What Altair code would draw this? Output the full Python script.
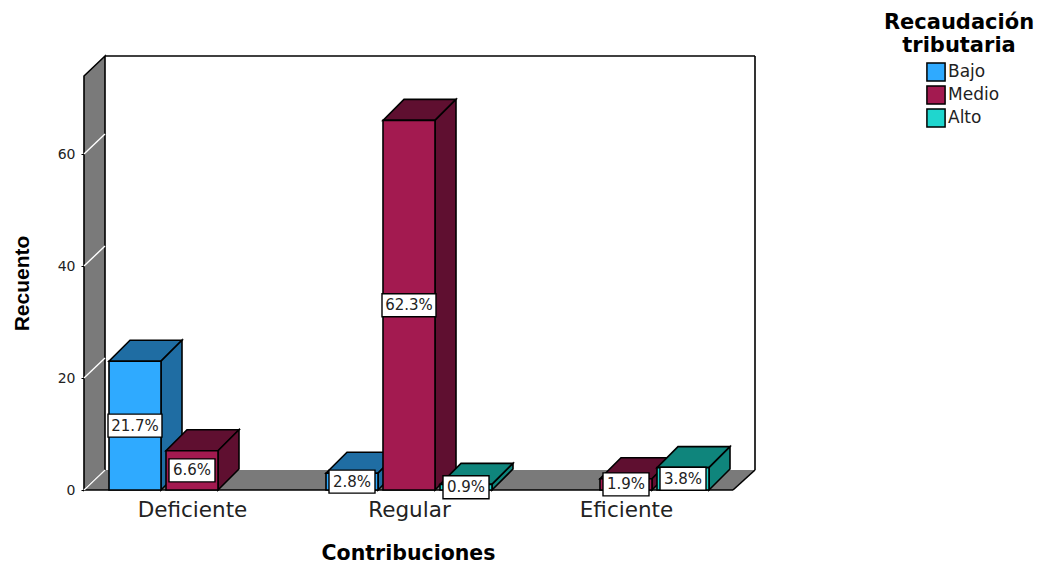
import altair as alt
import pandas as pd

categories = ["Deficiente", "Regular", "Eficiente"]
series = ["Bajo", "Medio", "Alto"]
counts = {
    "Bajo": [23, 3, 0],
    "Medio": [7, 66, 2],
    "Alto": [0, 1, 4],
}
percents = {
    "Bajo": ["21.7%", "2.8%", ""],
    "Medio": ["6.6%", "62.3%", "1.9%"],
    "Alto": ["", "0.9%", "3.8%"],
}
y_ticks = [0, 20, 40, 60]
front = ["#2FAAFF", "#A31A50", "#1FD6CE"]
dark = {"Bajo": "#1F6DA3", "Medio": "#5F0F30", "Alto": "#0F857C"}
WALL = "#7A7A7A"

W, H = 671, 434
PX = 5.6
Y_MAX = H / PX
DX = 21
DY = 21 / PX
WALL_DY = 20 / PX
BAR_W = 52
STEP = 217
C0 = 108
OFFS = {"Bajo": -57, "Medio": 0, "Alto": 57}
FLOOR_W = 649

FONT = "DejaVu Sans"
xs = alt.Scale(domain=[0, W], nice=False, zero=False)
ys = alt.Scale(domain=[0, Y_MAX], nice=False, zero=False)
centers = [C0 + i * STEP for i in range(len(categories))]

x_axis = alt.Axis(
    values=centers,
    labelExpr="[" + ",".join(f"'{c}'" for c in categories) + f"][(datum.value-{C0})/{STEP}]",
    title="Contribuciones", titleFont=FONT, titleFontSize=20.5, titleFontWeight="bold",
    titleColor="black", titleX=324, titleY=63, titleAlign="center", titleBaseline="middle",
    labelFont=FONT, labelFontSize=21.5, labelColor="#222222", labelPadding=9,
    ticks=False, domain=False, grid=False, labelFlush=False, labelOverlap=False,
)
y_axis = alt.Axis(
    values=y_ticks, format="d",
    title="Recuento", titleFont="Liberation Sans", titleFontSize=21, titleFontWeight="bold",
    titleColor="black", titleX=-62, titleY=227, titleAlign="center", titleBaseline="middle",
    labelFont=FONT, labelFontSize=14, labelColor="#222222", labelPadding=6,
    tickSize=3, tickColor="black", domain=False, grid=False,
)


def X():
    return alt.X("x:Q", scale=xs, axis=x_axis)


def Y():
    return alt.Y("y:Q", scale=ys, axis=y_axis)


def side(x0, x1, low, high, dy, fill):
    d = pd.DataFrame({"x": [x0, x1], "y": [low, low + dy], "y2": [high, high + dy]})
    return alt.Chart(d).mark_area(orient="vertical", fill=fill, stroke="black", strokeWidth=1.6, opacity=1).encode(
        x=X(), y=Y(), y2="y2:Q")


def top(x0, x1, y0, dx, dy, fill, stroke="black"):
    d = pd.DataFrame({"y": [y0, y0 + dy], "x": [x0, x0 + dx], "x2": [x1, x1 + dx]})
    kw = {"stroke": stroke, "strokeWidth": 1.6} if stroke else {}
    return alt.Chart(d).mark_area(orient="horizontal", fill=fill, opacity=1, **kw).encode(
        y=Y(), x=X(), x2="x2:Q")


def seg(x, y, color="black", width=1.6):
    d = pd.DataFrame({"x": x, "y": y})
    return alt.Chart(d).mark_line(color=color, strokeWidth=width).encode(x=X(), y=Y())


wall = alt.Chart(pd.DataFrame({"x": [DX], "x2": [W], "y": [WALL_DY], "y2": [Y_MAX]})).mark_rect(
    fill="white").encode(x=X(), x2="x2:Q", y=Y(), y2="y2:Q")

layers = [wall]
layers.append(seg([DX, W], [Y_MAX, Y_MAX]))
layers.append(seg([W, W], [WALL_DY, Y_MAX]))
layers.append(side(0, DX, 0, Y_MAX - WALL_DY, WALL_DY, WALL))
layers.append(top(0, FLOOR_W, 0, DX + 1, WALL_DY, WALL, stroke=None))
layers.append(seg([0, FLOOR_W], [0, 0]))
layers.append(seg([FLOOR_W, W], [0, WALL_DY]))
for t in y_ticks:
    layers.append(seg([0, DX], [t, t + WALL_DY], color="white", width=1.4))

color = alt.Color(
    "serie:N",
    scale=alt.Scale(domain=series, range=front),
    legend=alt.Legend(
        title=["Recaudación", "tributaria"], orient="none", legendX=800, legendY=-44,
        titleFont=FONT, titleFontSize=21, titleFontWeight="bold", titleColor="black",
        titleAlign="center", titleAnchor="middle", titleLineHeight=23, titlePadding=6,
        labelFont=FONT, labelFontSize=17, labelColor="#222222", labelOffset=2,
        symbolType="square", symbolSize=330, symbolStrokeColor="black", symbolStrokeWidth=1.5,
        symbolOffset=7, rowPadding=-3, padding=0,
    ),
)

boxes = []
for i in range(len(categories)):
    for s in series:
        n = counts[s][i]
        if n == 0:
            continue
        x0 = centers[i] + OFFS[s] - BAR_W / 2
        x1 = x0 + BAR_W
        layers.append(top(x0, x1, n, DX, DY, dark[s]))
        layers.append(side(x1, x1 + DX, 0, n, DY, dark[s]))
        d = pd.DataFrame({"x": [x0], "x2": [x1], "y": [0], "y2": [n], "serie": [s]})
        layers.append(alt.Chart(d).mark_rect(stroke="black", strokeWidth=1.6, opacity=1).encode(
            x=X(), x2="x2:Q", y=Y(), y2="y2:Q", color=color))
        boxes.append((x0 + BAR_W / 2, n / 2, percents[s][i]))

for cx, cy, label in boxes:
    half = 27 if len(label) > 4 else 23
    d = pd.DataFrame({"x": [cx - half], "x2": [cx + half],
                      "y": [cy - 11.5 / PX], "y2": [cy + 11.5 / PX]})
    layers.append(alt.Chart(d).mark_rect(fill="white", stroke="black", strokeWidth=1.4).encode(
        x=X(), x2="x2:Q", y=Y(), y2="y2:Q"))
    d = pd.DataFrame({"x": [cx], "y": [cy], "t": [label]})
    layers.append(alt.Chart(d).mark_text(font=FONT, fontSize=15, color="#222222", baseline="middle",
                                         align="center").encode(x=X(), y=Y(), text="t:N"))

chart = alt.layer(*layers).properties(
    width=W, height=H,
    autosize=alt.AutoSizeParams(type="none"),
    padding={"left": 76, "top": 48, "right": 282, "bottom": 74},
    background="white",
).configure_view(stroke=None)

chart.save("out.html", embed_options={"renderer": "svg", "actions": False})
